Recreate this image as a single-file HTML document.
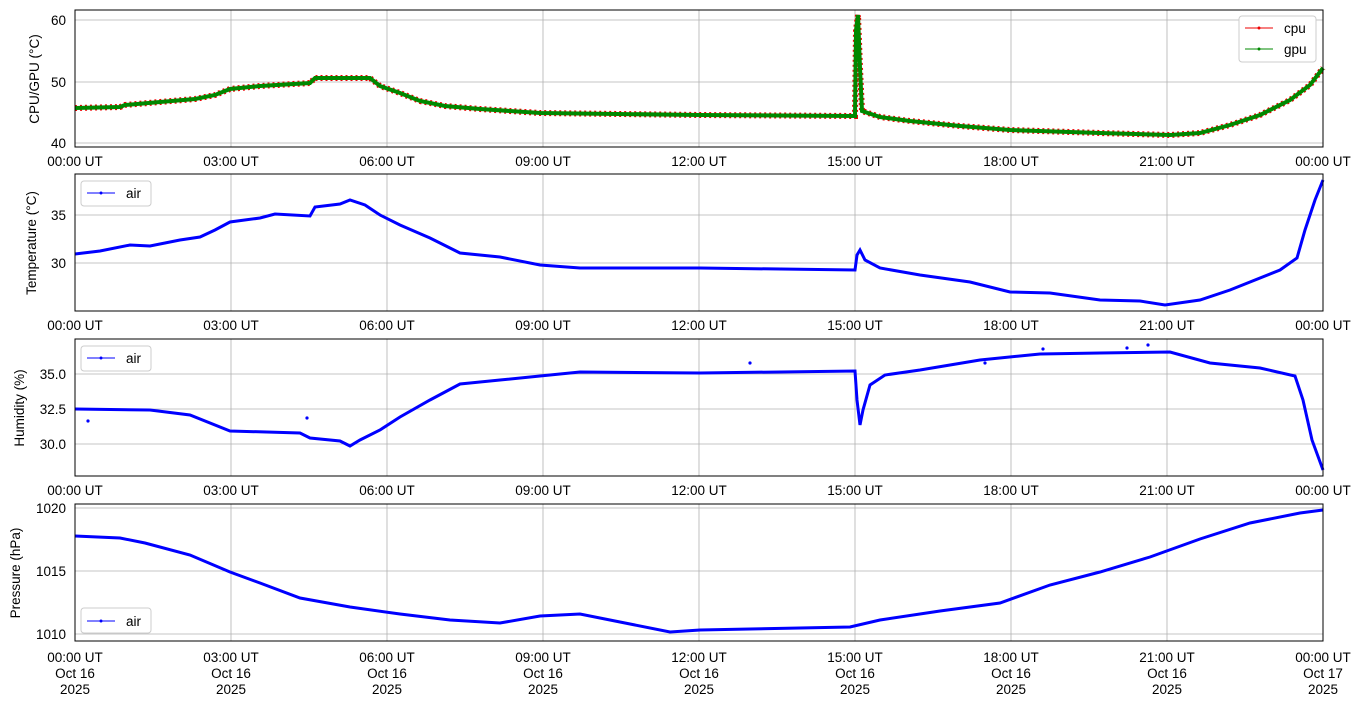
<!DOCTYPE html>
<html><head><meta charset="utf-8"><style>
body{margin:0;background:#fff}
svg text{font-family:"Liberation Sans",sans-serif;font-size:13.5px;fill:#000}
</style></head><body>
<svg width="1364" height="707" viewBox="0 0 1364 707">
<g stroke="#b0b0b0" stroke-width="0.8">
<g id="vg">
<line x1="231" y1="10" x2="231" y2="147"/><line x1="387" y1="10" x2="387" y2="147"/><line x1="543" y1="10" x2="543" y2="147"/><line x1="699" y1="10" x2="699" y2="147"/><line x1="855" y1="10" x2="855" y2="147"/><line x1="1011" y1="10" x2="1011" y2="147"/><line x1="1167" y1="10" x2="1167" y2="147"/>
</g>
<use href="#vg" y="164"/><use href="#vg" y="329"/><use href="#vg" y="494"/>
<line x1="75" y1="20" x2="1323" y2="20"/><line x1="75" y1="82" x2="1323" y2="82"/><line x1="75" y1="143" x2="1323" y2="143"/>
<line x1="75" y1="215" x2="1323" y2="215"/><line x1="75" y1="263" x2="1323" y2="263"/>
<line x1="75" y1="374" x2="1323" y2="374"/><line x1="75" y1="409" x2="1323" y2="409"/><line x1="75" y1="444" x2="1323" y2="444"/>
<line x1="75" y1="508" x2="1323" y2="508"/><line x1="75" y1="571" x2="1323" y2="571"/><line x1="75" y1="634" x2="1323" y2="634"/>
</g>
<polyline fill="none" stroke="#e00" stroke-width="6" stroke-dasharray="2 3" points="75,108 120,107 125,105 160,102 195,99 215,95 230,89 260,86 310,83 315,78 370,78 380,86 400,93 420,101 445,106 480,109 540,113 700,115 855,116 856,30 858,15 860,68 862,111 880,117 910,121 960,126 1010,130 1100,133 1170,135 1200,133 1230,125 1260,115 1290,100 1310,85 1323,68"/>
<polyline fill="none" stroke="#080" stroke-width="4" points="75,108 120,107 125,105 160,102 195,99 215,95 230,89 260,86 310,83 315,78 370,78 380,86 400,93 420,101 445,106 480,109 540,113 700,115 855,116 856,30 858,15 860,68 862,111 880,117 910,121 960,126 1010,130 1100,133 1170,135 1200,133 1230,125 1260,115 1290,100 1310,85 1323,68"/>
<polyline fill="none" stroke="#00f" stroke-width="3" points="75,254 100,251 130,245 150,246 180,240 200,237 215,230 230,222 260,218 275,214 310,216 315,207 340,204 350,200 365,205 380,215 400,225 430,238 460,253 500,257 540,265 580,268 700,268 855,270 857,255 860,250 865,260 880,268 920,275 970,282 1010,292 1050,293 1100,300 1140,301 1165,305 1200,300 1230,290 1280,270 1297,258 1305,230 1315,200 1323,180"/>
<polyline fill="none" stroke="#00f" stroke-width="3" points="75,409 150,410 190,415 230,431 300,433 310,438 340,441 350,446 360,440 380,430 400,417 430,400 460,384 500,380 540,376 580,372 700,373 855,371 857,400 860,425 863,410 870,385 885,375 920,370 980,360 1040,354 1100,353 1170,352 1210,363 1260,368 1295,376 1303,400 1312,440 1323,470"/>
<g fill="#00f"><circle cx="88" cy="421" r="1.6"/><circle cx="307" cy="418" r="1.6"/><circle cx="750" cy="363" r="1.6"/><circle cx="1127" cy="348" r="1.6"/><circle cx="1148" cy="345" r="1.6"/><circle cx="1043" cy="349" r="1.6"/><circle cx="985" cy="363" r="1.6"/></g>
<polyline fill="none" stroke="#00f" stroke-width="3" points="75,536 120,538 145,543 190,555 230,572 260,583 300,598 350,607 400,614 450,620 500,623 540,616 580,614 620,622 670,632 700,630 750,629 850,627 880,620 940,611 1000,603 1050,585 1100,572 1150,557 1200,539 1250,523 1300,513 1323,510"/>
<g fill="none" stroke="#000" stroke-width="1">
<rect x="75" y="10" width="1248" height="137"/><rect x="75" y="174" width="1248" height="137"/><rect x="75" y="339" width="1248" height="137"/><rect x="75" y="504" width="1248" height="137"/>
</g>
<g text-anchor="end">
<text x="66" y="25">60</text><text x="66" y="87">50</text><text x="66" y="148">40</text>
<text x="66" y="220">35</text><text x="66" y="268">30</text>
<text x="66" y="379">35.0</text><text x="66" y="414">32.5</text><text x="66" y="449">30.0</text>
<text x="66" y="513">1020</text><text x="66" y="576">1015</text><text x="66" y="639">1010</text>
</g>
<g text-anchor="middle">
<text transform="translate(39,79) rotate(-90)">CPU/GPU (°C)</text>
<text transform="translate(36,243) rotate(-90)">Temperature (°C)</text>
<text transform="translate(24,408) rotate(-90)">Humidity (%)</text>
<text transform="translate(20,573) rotate(-90)">Pressure (hPa)</text>
</g>
<g text-anchor="middle" id="xl">
<text x="75" y="166">00:00 UT</text><text x="231" y="166">03:00 UT</text><text x="387" y="166">06:00 UT</text><text x="543" y="166">09:00 UT</text><text x="699" y="166">12:00 UT</text><text x="855" y="166">15:00 UT</text><text x="1011" y="166">18:00 UT</text><text x="1167" y="166">21:00 UT</text><text x="1323" y="166">00:00 UT</text>
</g>
<use href="#xl" y="164"/><use href="#xl" y="329"/><use href="#xl" y="496"/>
<g text-anchor="middle">
<text x="75" y="678">Oct 16</text><text x="231" y="678">Oct 16</text><text x="387" y="678">Oct 16</text><text x="543" y="678">Oct 16</text><text x="699" y="678">Oct 16</text><text x="855" y="678">Oct 16</text><text x="1011" y="678">Oct 16</text><text x="1167" y="678">Oct 16</text><text x="1323" y="678">Oct 17</text>
<text x="75" y="694">2025</text><text x="231" y="694">2025</text><text x="387" y="694">2025</text><text x="543" y="694">2025</text><text x="699" y="694">2025</text><text x="855" y="694">2025</text><text x="1011" y="694">2025</text><text x="1167" y="694">2025</text><text x="1323" y="694">2025</text>
</g>
<rect x="1239" y="16" width="77" height="46" rx="3" fill="#fff" stroke="#ccc"/>
<line x1="1245" y1="28" x2="1273" y2="28" stroke="#e00"/><circle cx="1259" cy="28" r="1.5" fill="#e00"/><text x="1284" y="33">cpu</text>
<line x1="1245" y1="49" x2="1273" y2="49" stroke="#080"/><circle cx="1259" cy="49" r="1.5" fill="#080"/><text x="1284" y="54">gpu</text>
<rect x="81" y="181" width="70" height="25" rx="3" fill="#fff" stroke="#ccc"/>
<line x1="87" y1="193" x2="115" y2="193" stroke="#00f"/><circle cx="101" cy="193" r="1.5" fill="#00f"/><text x="126" y="198">air</text>
<rect x="81" y="346" width="70" height="25" rx="3" fill="#fff" stroke="#ccc"/>
<line x1="87" y1="358" x2="115" y2="358" stroke="#00f"/><circle cx="101" cy="358" r="1.5" fill="#00f"/><text x="126" y="363">air</text>
<rect x="81" y="608" width="70" height="25" rx="3" fill="#fff" stroke="#ccc"/>
<line x1="87" y1="621" x2="115" y2="621" stroke="#00f"/><circle cx="101" cy="621" r="1.5" fill="#00f"/><text x="126" y="626">air</text>
</svg>
</body></html>
